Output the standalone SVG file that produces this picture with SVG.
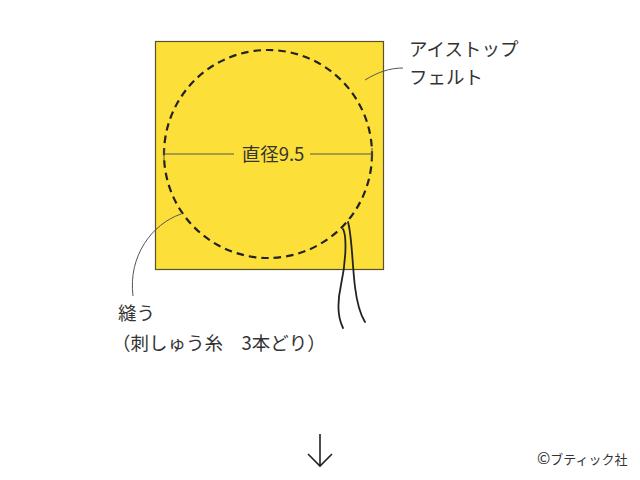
<svg xmlns="http://www.w3.org/2000/svg" width="640" height="480" viewBox="0 0 640 480">
<style>
text{font-family:"Noto Sans CJK JP","Noto Sans",sans-serif;fill:#333;}
.lbl{font-size:18.5px;}
.thin{fill:none;stroke:#555;stroke-width:1;}
.thread{fill:none;stroke:#222;stroke-width:1.8;stroke-linecap:round;}
</style>
<rect width="640" height="480" fill="#fff"/>
<g id="felt">
<rect x="155.5" y="41.5" width="228" height="228" fill="#FDDF3A" stroke="#5a5030" stroke-width="1.2"/>
</g>
<g id="stitch">
<circle cx="268" cy="154" r="104" fill="none" stroke="#222" stroke-width="2.2" stroke-dasharray="7.5,5"/>
</g>
<g id="diameter">
<path class="thin" d="M164,154H234M310,154H372M164,148V160M372,148V160"/>
<text class="lbl" x="273" y="161" text-anchor="middle" font-size="19">直径9.5</text>
</g>
<g id="threads">
<path class="thread" d="M343,229 C347,236 346,262 341,285 C337,303 338,318 343,328"/>
<path class="thread" d="M348,222 C352,236 352,262 355,287 C357,303 360,314 365,322"/>
</g>
<g id="connectors">
<path class="thin" d="M365,80 C378,72 390,68 403,68"/>
<path class="thin" d="M181,214 C152,224 128,256 133,296"/>
</g>
<g id="label-felt">
<text class="lbl" x="409" y="56">アイストップ</text>
<text class="lbl" x="409" y="84">フェルト</text>
</g>
<g id="label-sew">
<text class="lbl" x="118" y="320">縫う</text>
<text class="lbl" x="112" y="350">（刺しゅう糸　3本どり）</text>
</g>
<g id="arrow">
<path d="M320,434V466M308,454L320,466L332,454" fill="none" stroke="#222" stroke-width="1.6"/>
</g>
<g id="copyright">
<text x="537" y="464" font-size="13"><tspan font-size="16">©</tspan>ブティック社</text>
</g>
</svg>
